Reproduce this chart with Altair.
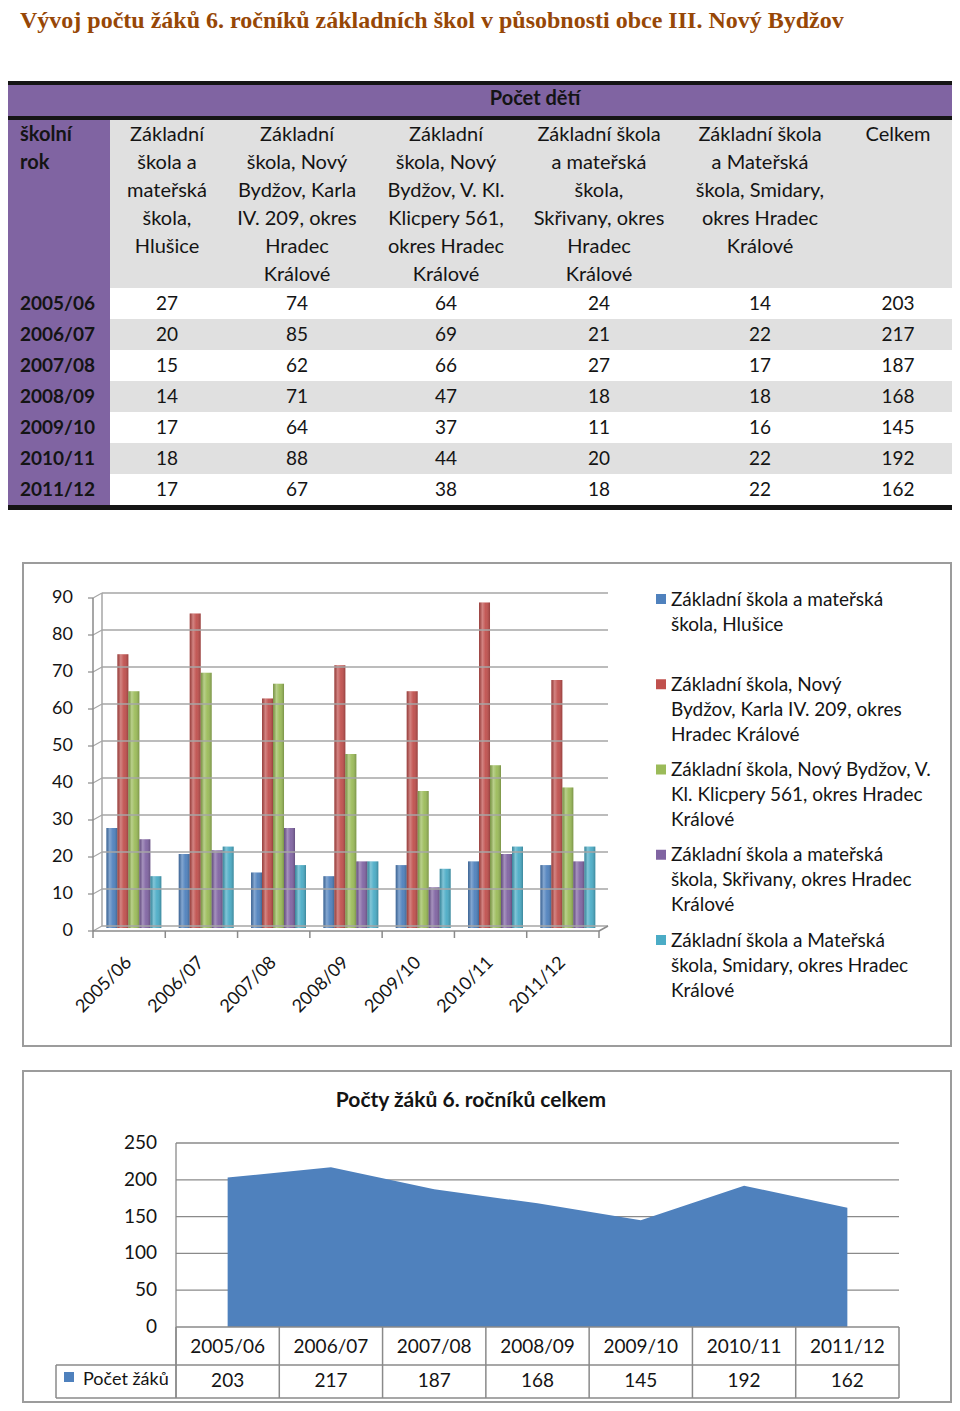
import altair as alt
import pandas as pd

# ---------------- data ----------------
years = ["2005/06", "2006/07", "2007/08", "2008/09", "2009/10", "2010/11", "2011/12"]
schools = [
    "Základní škola a mateřská škola, Hlušice",
    "Základní škola, Nový Bydžov, Karla IV. 209, okres Hradec Králové",
    "Základní škola, Nový Bydžov, V. Kl. Klicpery 561, okres Hradec Králové",
    "Základní škola a mateřská škola, Skřivany, okres Hradec Králové",
    "Základní škola a Mateřská škola, Smidary, okres Hradec Králové",
]
hlusice = [27, 20, 15, 14, 17, 18, 17]
karla = [74, 85, 62, 71, 64, 88, 67]
klicpery = [64, 69, 66, 47, 37, 44, 38]
skrivany = [24, 21, 27, 18, 11, 20, 18]
smidary = [14, 22, 17, 18, 16, 22, 22]
celkem = [203, 217, 187, 168, 145, 192, 162]
series = [hlusice, karla, klicpery, skrivany, smidary]
colors = ["#4F81BD", "#C0504D", "#9BBB59", "#8064A2", "#4BACC6"]

main_title = "Vývoj počtu žáků  6. ročníků základních škol v působnosti obce III. Nový Bydžov"
group_header = "Počet dětí"
first_header = "školní\nrok"
column_headers = [
    "Základní\nškola a\nmateřská\nškola,\nHlušice",
    "Základní\nškola, Nový\nBydžov, Karla\nIV. 209, okres\nHradec\nKrálové",
    "Základní\nškola, Nový\nBydžov, V. Kl.\nKlicpery 561,\nokres Hradec\nKrálové",
    "Základní škola\na mateřská\nškola,\nSkřivany, okres\nHradec\nKrálové",
    "Základní škola\na Mateřská\nškola, Smidary,\nokres Hradec\nKrálové",
    "Celkem",
]
legend_labels = [
    "Základní škola a mateřská\nškola, Hlušice",
    "Základní škola, Nový\nBydžov, Karla IV.  209, okres\nHradec Králové",
    "Základní škola, Nový Bydžov, V.\nKl. Klicpery 561, okres Hradec\nKrálové",
    "Základní škola a mateřská\nškola, Skřivany, okres Hradec\nKrálové",
    "Základní škola a Mateřská\nškola, Smidary, okres Hradec\nKrálové",
]
bar_ticks = [0, 10, 20, 30, 40, 50, 60, 70, 80, 90]
area_title = "Počty žáků 6. ročníků celkem"
area_series = "Počet žáků"
area_ticks = [0, 50, 100, 150, 200, 250]

# ---------------- layout (page pixels) ----------------
W, H = 944, 1395
def P(v):
    return v - 8

FONT = "Lato"
INK = "#141414"
col_centers = [167, 297, 446, 599, 760, 898]

PX = alt.Scale(domain=[8, 8 + W], range=[0, W], nice=False, zero=False)
PY = alt.Scale(domain=[8, 8 + H], range=[0, H], nice=False, zero=False)

def pxe(f):
    return alt.X(f, type="quantitative", scale=PX, axis=None)

def pye(f):
    return alt.Y(f, type="quantitative", scale=PY, axis=None)

# ---------- page group: title, table chrome, headers, boxes ----------
chrome = pd.DataFrame({
    "x0": [8, 8, 8, 8, 110, 6],
    "x1": [952, 952, 952, 110, 952, 952],
    "y0": [81, 85, 116, 120, 120, 505],
    "y1": [85, 116, 120, 505, 288, 510],
    "c": ["#151515", "#8064A2", "#151515", "#8064A2", "#E0E0E0", "#151515"],
})
chrome_l = alt.Chart(chrome).mark_rect().encode(
    x=pxe("x0"), x2=alt.X2("x1"), y=pye("y0"), y2=alt.Y2("y1"),
    color=alt.Color("c:N", scale=None))

boxes = pd.DataFrame({"x0": [23, 23], "x1": [951, 951], "y0": [563, 1071], "y1": [1046, 1402]})
boxes_l = alt.Chart(boxes).mark_rect(fillOpacity=0, stroke="#9c9c9c", strokeWidth=2).encode(
    x=pxe("x0"), x2=alt.X2("x1"), y=pye("y0"), y2=alt.Y2("y1"))

title_l = alt.Chart(pd.DataFrame({"x": [20], "y": [9], "t": [main_title]})).mark_text(
    align="left", baseline="top", font="Liberation Serif", fontSize=24,
    fontWeight="bold", color="#974706").encode(x=pxe("x"), y=pye("y"), text="t:N")

gh_l = alt.Chart(pd.DataFrame({"x": [535], "y": [99], "t": [group_header]})).mark_text(
    align="center", baseline="middle", font=FONT, fontSize=20, fontWeight="bold",
    color=INK).encode(x=pxe("x"), y=pye("y"), text="t:N")

hdr_l = alt.Chart(pd.DataFrame({"x": col_centers, "y": [141] * 6, "t": column_headers})).mark_text(
    align="center", baseline="alphabetic", font=FONT, fontSize=20, lineBreak="\n",
    lineHeight=28, color=INK).encode(x=pxe("x"), y=pye("y"), text="t:N")

hdr0_l = alt.Chart(pd.DataFrame({"x": [20], "y": [141], "t": [first_header]})).mark_text(
    align="left", baseline="alphabetic", font=FONT, fontSize=20, fontWeight="bold",
    lineBreak="\n", lineHeight=28, color=INK).encode(x=pxe("x"), y=pye("y"), text="t:N")

at_l = alt.Chart(pd.DataFrame({"x": [471], "y": [1101], "t": [area_title]})).mark_text(
    align="center", baseline="middle", font=FONT, fontSize=21, fontWeight="bold",
    color=INK).encode(x=pxe("x"), y=pye("y"), text="t:N")

page = alt.layer(chrome_l, boxes_l, title_l, gh_l, hdr_l, hdr0_l, at_l)

# ---------- table body ----------
YT = alt.Scale(domain=years, range=[P(288), P(505)], paddingInner=0, paddingOuter=0)
stripes = pd.DataFrame({"year": years[1::2], "x0": 110, "x1": 952})
stripes_l = alt.Chart(stripes).mark_rect(color="#E0E0E0").encode(
    x=pxe("x0"), x2=alt.X2("x1"), y=alt.Y("year:N", scale=YT, axis=None))

cells = []
for ci, vals in enumerate(series + [celkem]):
    for y, v in zip(years, vals):
        cells.append({"year": y, "x": col_centers[ci], "t": str(v)})
cells_l = alt.Chart(pd.DataFrame(cells)).mark_text(
    align="center", baseline="middle", font=FONT, fontSize=19, color=INK).encode(
    x=pxe("x"), y=alt.Y("year:N", scale=YT, axis=None), text="t:N")
yrs_l = alt.Chart(pd.DataFrame({"year": years, "x": 20})).mark_text(
    align="left", baseline="middle", font=FONT, fontSize=19, fontWeight="bold", color=INK).encode(
    x=pxe("x"), y=alt.Y("year:N", scale=YT, axis=None), text="year:N")
table = alt.layer(stripes_l, cells_l, yrs_l)

# ---------- bar chart ----------
bars_df = pd.DataFrame([{"year": y, "school": s, "value": v}
                        for s, vals in zip(schools, series) for y, v in zip(years, vals)])
XB = alt.Scale(domain=years, range=[P(97.7), P(604)], paddingInner=0.24, paddingOuter=0.12)
XOB = alt.Scale(domain=schools, paddingInner=0.0, paddingOuter=0)
YB = alt.Scale(domain=[0, 90], range=[P(928), P(595)], nice=False, zero=True)
benc = dict(
    x=alt.X("year:N", scale=XB, axis=None),
    xOffset=alt.XOffset("school:N", scale=XOB),
    y=alt.Y("value:Q", scale=YB, axis=None),
)
bars_base = alt.Chart(bars_df).mark_bar().encode(
    color=alt.Color("school:N", scale=alt.Scale(domain=schools, range=colors), legend=None), **benc)
shade = alt.Gradient(
    gradient="linear", x1=0, x2=1, y1=0, y2=0,
    stops=[alt.GradientStop(color="rgba(0,0,0,0.20)", offset=0),
           alt.GradientStop(color="rgba(255,255,255,0.30)", offset=0.3),
           alt.GradientStop(color="rgba(255,255,255,0.05)", offset=0.6),
           alt.GradientStop(color="rgba(0,0,0,0.22)", offset=1)])
bars_shade = alt.Chart(bars_df).mark_bar(color=shade).encode(**benc)
bars = alt.layer(bars_base, bars_shade)

# ---------- bar chart axes / walls ----------
XG = alt.Scale(domain=[0, 7], range=[P(93), P(599)], nice=False, zero=False)
YG = alt.Scale(domain=[0, 90], range=[P(931), P(598)], nice=False, zero=True)
def gx(f):
    return alt.X(f, type="quantitative", scale=XG, axis=None)
def gy(f):
    return alt.Y(f, type="quantitative", scale=YG, axis=None)

grid_df = pd.DataFrame({"v": bar_ticks, "a": 0, "b": 7})
back_grid = alt.Chart(grid_df).mark_rule(color="#a6a6a6", strokeWidth=1.5, xOffset=9, x2Offset=9,
                                         yOffset=-5).encode(x=gx("a"), x2=alt.X2("b"), y=gy("v"))
diag = alt.Chart(grid_df).mark_rule(color="#a6a6a6", strokeWidth=1.2, x2Offset=9, y2Offset=-5).encode(
    x=gx("a"), x2=alt.X2("a"), y=gy("v"), y2=alt.Y2("v"))
yticks = alt.Chart(grid_df).mark_rule(color="#8a8a8a", strokeWidth=1.2, xOffset=-5).encode(
    x=gx("a"), x2=alt.X2("a"), y=gy("v"))
ylabels = alt.Chart(grid_df).mark_text(align="right", baseline="middle", font=FONT, fontSize=18,
                                       color=INK, xOffset=-20).encode(x=gx("a"), y=gy("v"), text="v:Q")
walls = pd.DataFrame({"x0": [0, 0, 0, 7], "x1": [0, 0, 7, 7], "y0": [0, 0, 0, 0], "y1": [90, 90, 0, 0],
                      "kind": ["back", "front", "base", "right"]})
back_wall = alt.Chart(walls).transform_filter(alt.datum.kind == "back").mark_rule(
    color="#a6a6a6", strokeWidth=1.5, xOffset=9, x2Offset=9, yOffset=-5, y2Offset=-5).encode(
    x=gx("x0"), x2=alt.X2("x1"), y=gy("y0"), y2=alt.Y2("y1"))
front_lines = alt.Chart(walls).transform_filter(
    (alt.datum.kind == "front") | (alt.datum.kind == "base")).mark_rule(
    color="#8a8a8a", strokeWidth=1.5).encode(
    x=gx("x0"), x2=alt.X2("x1"), y=gy("y0"), y2=alt.Y2("y1"))
right_diag = alt.Chart(walls).transform_filter(alt.datum.kind == "right").mark_rule(
    color="#8a8a8a", strokeWidth=1.5, x2Offset=9, y2Offset=-5).encode(
    x=gx("x0"), x2=alt.X2("x1"), y=gy("y0"), y2=alt.Y2("y1"))
xt_df = pd.DataFrame({"k": list(range(8)), "z": 0})
xticks = alt.Chart(xt_df).mark_rule(color="#8a8a8a", strokeWidth=1.5, y2Offset=7).encode(
    x=gx("k"), y=gy("z"), y2=alt.Y2("z"))
xl_df = pd.DataFrame({"k": [i + 0.5 for i in range(len(years))], "z": 0, "t": years})
xlabels = alt.Chart(xl_df).mark_text(align="right", baseline="middle", angle=315, font=FONT,
                                     fontSize=18, color=INK, xOffset=0, yOffset=29).encode(
    x=gx("k"), y=gy("z"), text="t:N")
axes = alt.layer(back_wall, back_grid, diag, front_lines, right_diag, yticks, xticks, ylabels, xlabels)

# ---------- bar legend ----------
YL = alt.Scale(type="point", domain=schools, range=[P(599), P(940)], padding=0)
leg_df = pd.DataFrame({"school": schools, "label": legend_labels})
leg_sq = alt.Chart(leg_df).mark_square(size=100, opacity=1).encode(
    x=alt.value(P(661)), y=alt.Y("school:N", scale=YL, axis=None),
    color=alt.Color("school:N", scale=alt.Scale(domain=schools, range=colors), legend=None))
leg_tx = alt.Chart(leg_df).mark_text(align="left", baseline="alphabetic", font=FONT, fontSize=19,
                                     lineBreak="\n", lineHeight=25, color=INK, yOffset=6.5).encode(
    x=alt.value(P(671)), y=alt.Y("school:N", scale=YL, axis=None), text="label:N")
legend = alt.layer(leg_sq, leg_tx)

# ---------- area chart ----------
XA = alt.Scale(domain=[-0.5, 6.5], range=[P(176), P(899)], nice=False, zero=False)
YA = alt.Scale(domain=[0, 250], range=[P(1327), P(1143)], nice=False, zero=True)
def ax(f):
    return alt.X(f, type="quantitative", scale=XA, axis=None)
def ay(f):
    return alt.Y(f, type="quantitative", scale=YA, axis=None)

area_df = pd.DataFrame({"i": list(range(len(years))), "year": years, "total": celkem, "z": 0})
agrid_df = pd.DataFrame({"v": area_ticks[1:], "a": -0.5, "b": 6.5})
agrid = alt.Chart(agrid_df).mark_rule(color="#8a8a8a", strokeWidth=1.3).encode(
    x=ax("a"), x2=alt.X2("b"), y=ay("v"))
aylab = alt.Chart(pd.DataFrame({"v": area_ticks, "a": -0.5})).mark_text(
    align="right", baseline="middle", font=FONT, fontSize=19, color=INK, xOffset=-19).encode(
    x=ax("a"), y=ay("v"), text="v:Q")
aleft = alt.Chart(pd.DataFrame({"a": [-0.5], "top": [250], "z": [0]})).mark_rule(
    color="#8a8a8a", strokeWidth=1.3, y2Offset=71).encode(x=ax("a"), y=ay("top"), y2=alt.Y2("z"))
area = alt.Chart(area_df).mark_area(color="#4F81BD", opacity=1).encode(x=ax("i"), y=ay("total"))
hl_df = pd.DataFrame({"a": [-0.5], "b": [6.5], "z": [0]})
hline0 = alt.Chart(hl_df).mark_rule(color="#8a8a8a", strokeWidth=1.5).encode(
    x=ax("a"), x2=alt.X2("b"), y=ay("z"))
hline1 = alt.Chart(hl_df).mark_rule(color="#8a8a8a", strokeWidth=1.5, xOffset=-120,
                                    yOffset=38).encode(x=ax("a"), x2=alt.X2("b"), y=ay("z"))
hline2 = alt.Chart(hl_df).mark_rule(color="#8a8a8a", strokeWidth=1.5, xOffset=-120,
                                    yOffset=71).encode(x=ax("a"), x2=alt.X2("b"), y=ay("z"))
vl_df = pd.DataFrame({"k": [i - 0.5 for i in range(len(years) + 1)], "z": 0})
vlines = alt.Chart(vl_df).mark_rule(color="#8a8a8a", strokeWidth=1.5, y2Offset=71).encode(
    x=ax("k"), y=ay("z"), y2=alt.Y2("z"))
vleft = alt.Chart(vl_df.iloc[:1]).mark_rule(color="#8a8a8a", strokeWidth=1.5, xOffset=-120,
                                            yOffset=38, y2Offset=71).encode(
    x=ax("k"), y=ay("z"), y2=alt.Y2("z"))
acat = alt.Chart(area_df).mark_text(align="center", baseline="middle", font=FONT, fontSize=19,
                                    color=INK, yOffset=20).encode(x=ax("i"), y=ay("z"), text="year:N")
aval = alt.Chart(area_df).mark_text(align="center", baseline="middle", font=FONT, fontSize=19,
                                    color=INK, yOffset=54).encode(x=ax("i"), y=ay("z"), text="total:Q")
aleg_df = pd.DataFrame({"a": [-0.5], "z": [0], "t": [area_series]})
aleg_sq = alt.Chart(aleg_df).mark_square(size=100, color="#4F81BD", opacity=1, xOffset=-107,
                                         yOffset=50).encode(x=ax("a"), y=ay("z"))
aleg_tx = alt.Chart(aleg_df).mark_text(align="left", baseline="middle", font=FONT, fontSize=18,
                                       color=INK, xOffset=-93, yOffset=53).encode(
    x=ax("a"), y=ay("z"), text="t:N")
area_chart = alt.layer(agrid, aleft, area, hline0, hline1, hline2, vlines, vleft, aylab, acat, aval,
                       aleg_sq, aleg_tx)

chart = alt.layer(page, table, bars, axes, legend, area_chart).resolve_scale(
    x="independent", y="independent", color="independent"
).properties(
    width=W, height=H, padding=0, autosize=alt.AutoSizeParams(type="none"), background="white"
).configure_view(strokeWidth=0)

chart.save("out.html", embed_options={"renderer": "svg", "actions": False})
